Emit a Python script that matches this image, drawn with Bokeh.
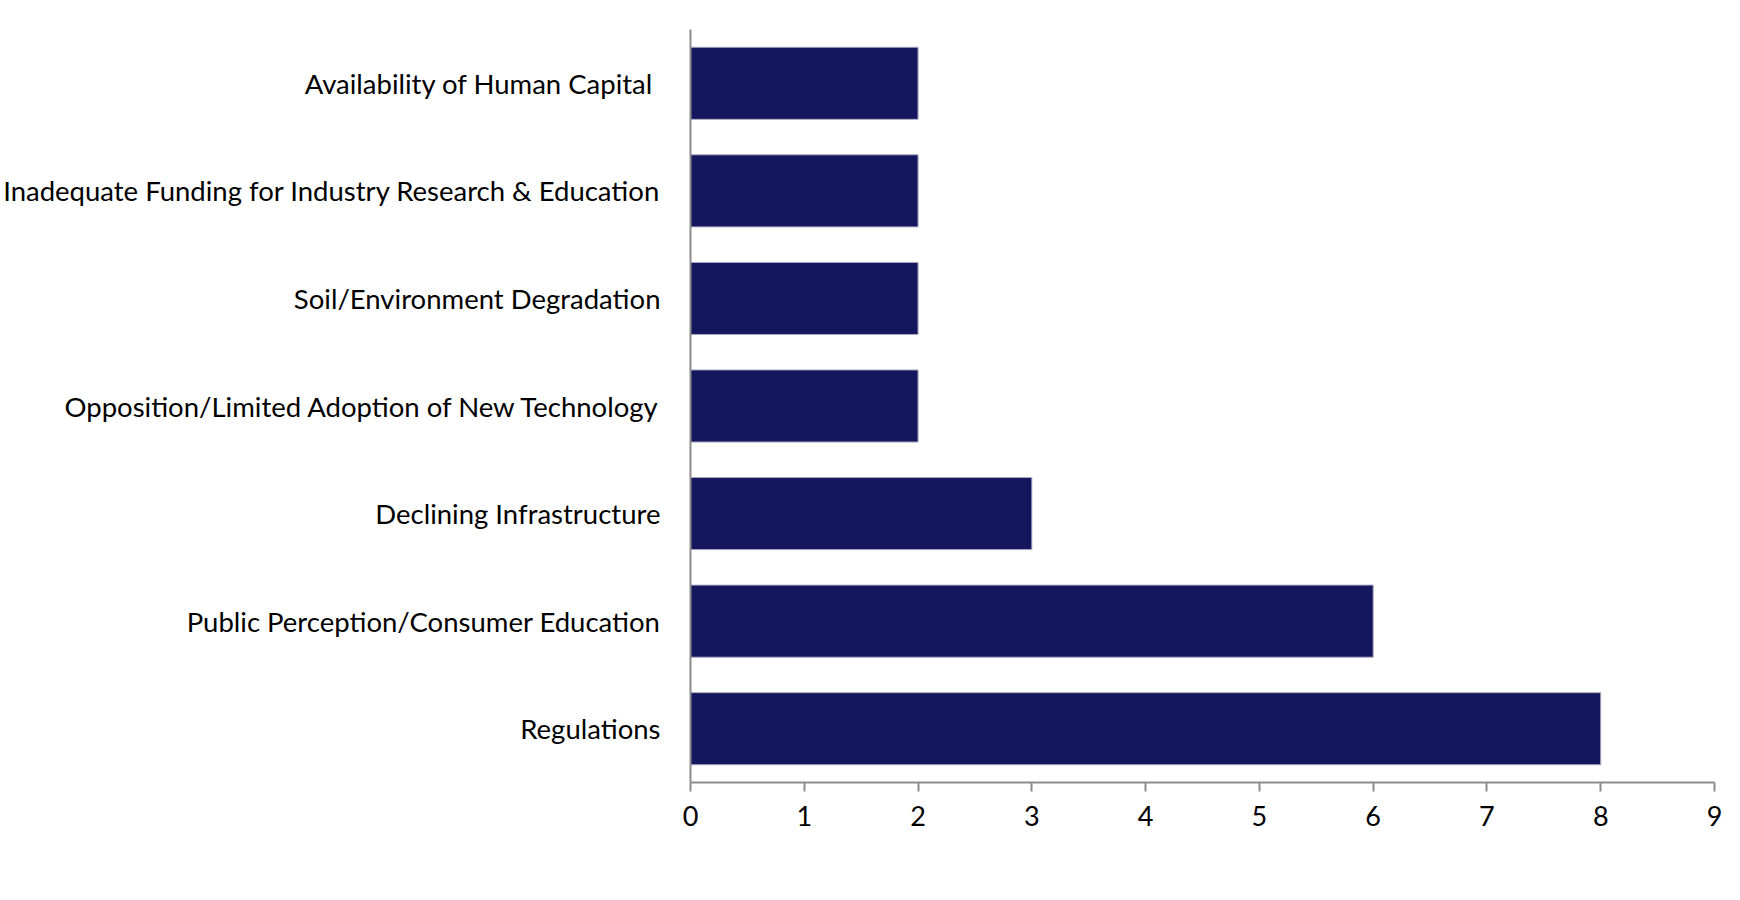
from bokeh.plotting import figure
from bokeh.models import FactorRange, Range1d, FixedTicker
from bokeh.embed import file_html
from bokeh.resources import INLINE

categories = [
    "Regulations",
    "Public Perception/Consumer Education",
    "Declining Infrastructure",
    "Opposition/Limited Adoption of New Technology",
    "Soil/Environment Degradation",
    "Inadequate Funding for Industry Research & Education",
    "Availability of Human Capital ",
]
values = [8, 6, 3, 2, 2, 2, 2]
x_ticks = [0, 1, 2, 3, 4, 5, 6, 7, 8, 9]

FONT = "Lato"
AXIS_COLOR = "#8c8c8c"

p = figure(
    width=1724, height=884,
    y_range=FactorRange(*categories, range_padding=0),
    x_range=Range1d(0, 9),
    output_backend="svg", toolbar_location=None,
    min_border_left=689, min_border_right=10,
    min_border_top=29, min_border_bottom=102,
)
p.hbar(y=categories, right=values, left=0, height=0.67,
       fill_color="#14165e", line_color="#a8a8c0", line_width=1)

p.xgrid.visible = False
p.ygrid.visible = False
p.outline_line_color = None
p.background_fill_color = "white"
p.border_fill_color = "white"

xa = p.xaxis[0]
xa.ticker = FixedTicker(ticks=x_ticks)
xa.axis_line_color = AXIS_COLOR
xa.axis_line_width = 2
xa.major_tick_line_color = AXIS_COLOR
xa.major_tick_line_width = 2
xa.major_tick_out = 9
xa.major_tick_in = 0
xa.minor_tick_line_color = None
xa.major_label_text_font = FONT
xa.major_label_text_font_size = "27px"
xa.major_label_text_color = "black"
xa.major_label_standoff = 14

ya = p.yaxis[0]
ya.axis_line_color = AXIS_COLOR
ya.axis_line_width = 2
ya.major_tick_line_color = None
ya.minor_tick_line_color = None
ya.major_label_text_font = FONT
ya.major_label_text_font_size = "27.5px"
ya.major_label_text_color = "black"
ya.major_label_standoff = 24

open("out.html", "w").write(file_html(p, INLINE))
